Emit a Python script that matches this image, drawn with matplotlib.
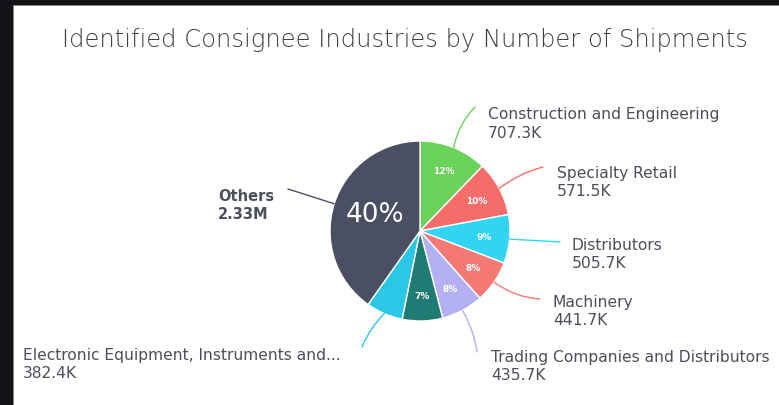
import matplotlib
matplotlib.use("Agg")
import matplotlib.pyplot as plt
from matplotlib.patches import Rectangle
import numpy as np

# ---- data ----
categories = ["Construction and Engineering", "Specialty Retail", "Distributors",
              "Machinery", "Trading Companies and Distributors", "",
              "Electronic Equipment, Instruments and...", "Others"]
values_k = [707.3, 571.5, 505.7, 441.7, 435.7, 420.0, 382.4, 2330.0]
value_labels = ["707.3K", "571.5K", "505.7K", "441.7K", "435.7K", "", "382.4K", "2.33M"]
colors = ["#6ad25a", "#f46d6b", "#31d5f2", "#f47873", "#b4b1f2", "#1f7b74", "#2bc8e6", "#4a4f62"]
title = "Identified Consignee Industries by Number of Shipments"

W, H = 779, 406
fig = plt.figure(figsize=(W / 100, H / 100), dpi=100)
fig.patch.set_facecolor("#121418")
ax = fig.add_axes([0, 0, 1, 1])
ax.add_patch(Rectangle((13, 0), W - 13, H - 6, facecolor="white", edgecolor="#888888", lw=0.6, zorder=0))

def py(y):
    return H - y

cx, cy, R = 420, py(232), 90

def autopct(p):
    return f"{p:.0f}%" if p >= 7 else ""

wedges, texts, autotexts = ax.pie(values_k, colors=colors, startangle=90, counterclock=False,
                                  center=(cx, cy), radius=R, autopct=autopct, pctdistance=0.72,
                                  wedgeprops=dict(edgecolor="white", linewidth=1.0),
                                  textprops=dict(color="white", fontsize=6.5, family="DejaVu Sans"),
                                  frame=True)
ax.set_xlim(0, W)
ax.set_ylim(0, H)
ax.set_aspect("equal")
ax.axis("off")
for t in autotexts:
    t.set_fontweight("bold")
autotexts[-1].set_fontsize(19)
autotexts[-1].set_fontweight("normal")
autotexts[-1].set_position((cx - 45, cy + 17))

# label anchors (left x, name-line y, leader end x, leader end y, curvature) in px
label_pos = {0: (488, 115, 475, 108, 0.15),
             1: (557, 174, 543, 168, 0.1),
             2: (572, 246, 560, 243, 0.0),
             3: (553, 303, 540, 300, -0.15),
             4: (491, 358, 477, 353, 0.1),
             6: (23, 356, 362, 348, -0.1),
             7: (218, 197, 288, 190, 0.0)}

txtcol = "#4b4f5b"
for i, (lx, ly, ex, ey, rad) in label_pos.items():
    w = wedges[i]
    mid = np.deg2rad((w.theta1 + w.theta2) / 2)
    sx, sy = cx + R * np.cos(mid), cy + R * np.sin(mid)
    ax.annotate("", xy=(sx, sy), xytext=(ex, py(ey)),
                arrowprops=dict(arrowstyle="-", color=colors[i], lw=1.0,
                                connectionstyle=f"arc3,rad={rad}", shrinkA=0, shrinkB=0))
    bold = i == 7
    fs = 10.5 if bold else 11.2
    ax.text(lx, py(ly), categories[i], fontsize=fs, color=txtcol, va="center", ha="left",
            fontweight="bold" if bold else "normal", family="DejaVu Sans")
    ax.text(lx, py(ly + 18), value_labels[i], fontsize=fs, color=txtcol, va="center", ha="left",
            fontweight="bold" if bold else "normal", family="DejaVu Sans")

ax.text(405, py(40), title, fontsize=17.5, color="#3f3f3f", ha="center", va="center",
        family="DejaVu Sans", fontweight="light")

fig.savefig("out.png", dpi=100, facecolor=fig.get_facecolor())
